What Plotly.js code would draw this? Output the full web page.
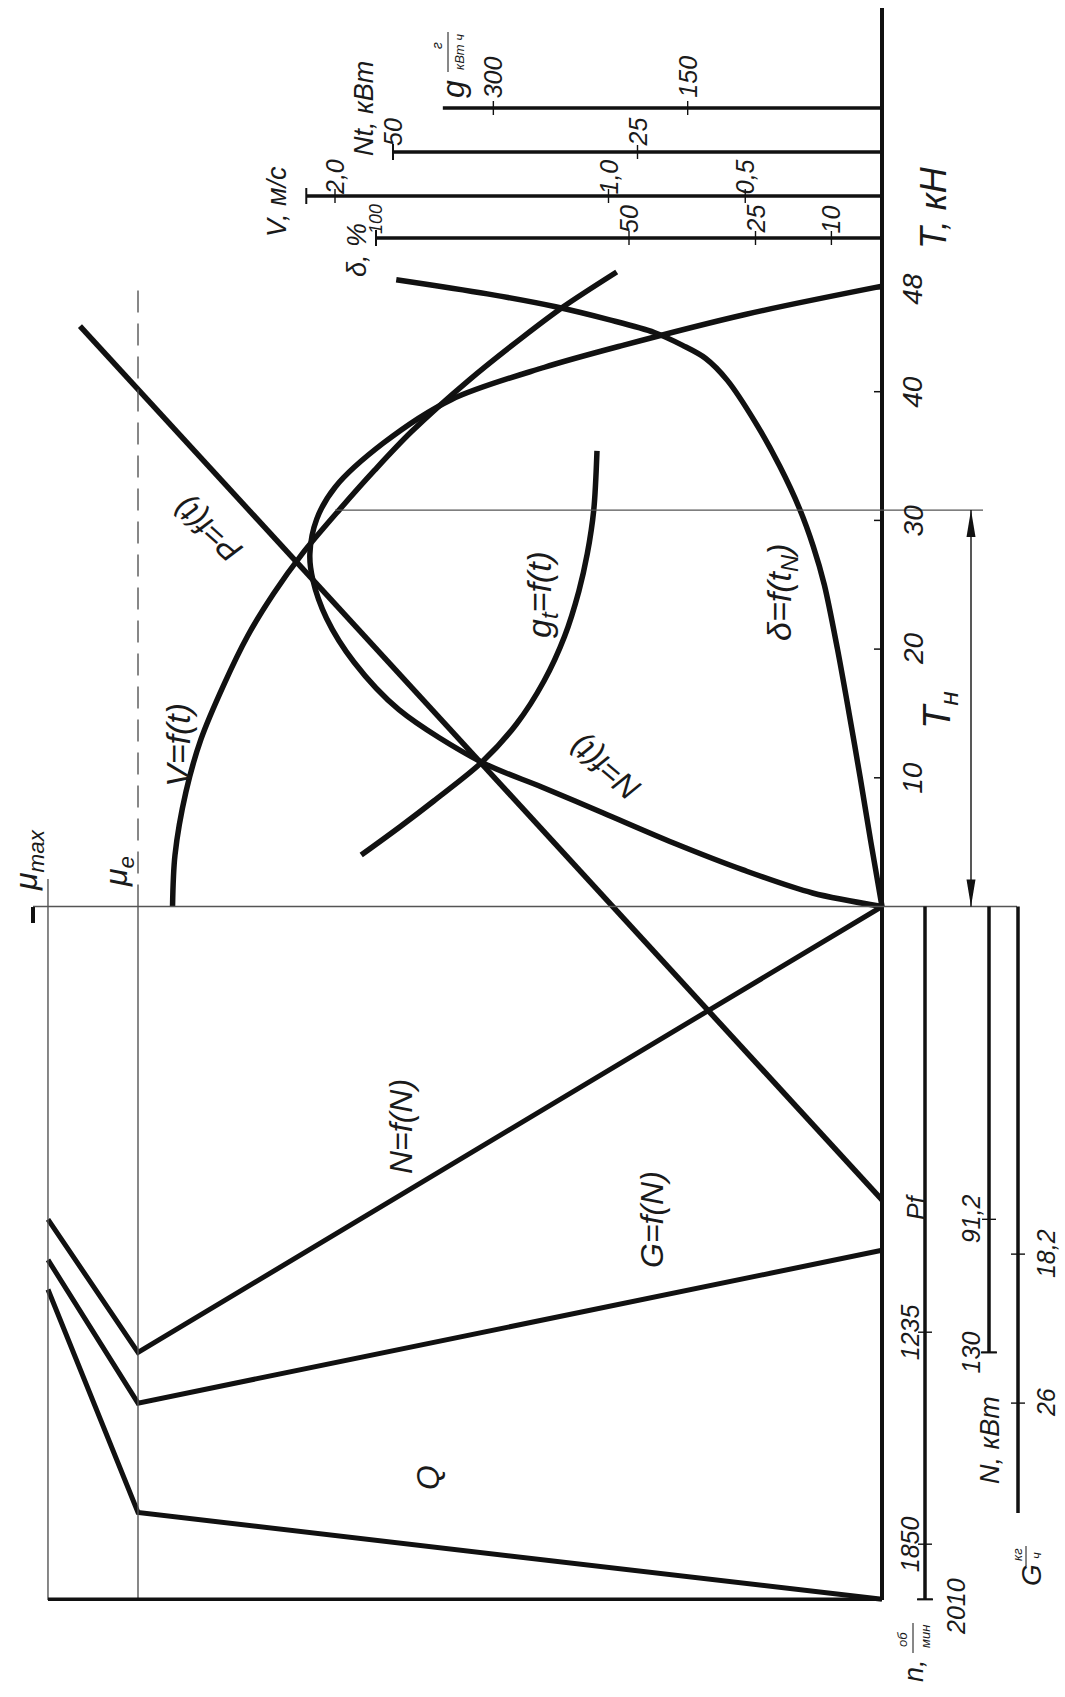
<!DOCTYPE html>
<html>
<head>
<meta charset="utf-8">
<script src="https://cdn.plot.ly/plotly-3.0.1.min.js"></script>
<style>html,body{margin:0;padding:0;background:#fff;overflow:hidden}</style>
</head>
<body>
<div id="chart" style="width:1065px;height:1697px"></div>
<script>
// ---------------- DATA ----------------
// Upper field: traction characteristic vs hook pull T, kN
const T_V   = [0, 4, 8.9, 13, 17.3, 21, 24.3, 27.4, 30.8, 33.9, 36.9, 40.9, 44.3, 46.6, 49.3];
const V_MS  = [2.594, 2.585, 2.545, 2.49, 2.405, 2.32, 2.225, 2.12, 1.985, 1.855, 1.72, 1.51, 1.31, 1.165, 0.97];

const T_NT  = [0, 1.05, 2.84, 4.93, 7.26, 9.29, 11.2, 15.3, 19.0, 22.4, 25.4, 27.4, 30.1, 32.6, 36.0, 39.4, 41.9, 43.6, 46.0, 48.2];
const NT_KW = [0, 7.1, 14.2, 21.3, 28.5, 34.8, 40.9, 49.4, 54.0, 56.8, 58.2, 58.5, 57.8, 55.9, 51.0, 44.0, 34.5, 26.5, 14.0, 0];

const T_GT  = [4.0, 6.2, 8.2, 11.2, 14.2, 17.5, 21.0, 24.5, 27.4, 30.8, 35.4];
const GT    = [402, 372, 346, 309, 282, 261, 245, 234, 227.5, 222.5, 220];

const T_DELTA = [0, 5, 10, 15, 20, 25, 28, 31, 34.2, 37.6, 40.9, 42.6, 43.6, 44.6, 45.6, 46.6, 47.6, 48.7];
const DELTA   = [0, 2.2, 4.3, 6.5, 8.8, 11.4, 13.6, 16.4, 20.2, 25.0, 30.6, 34.9, 39.4, 45, 54, 64.5, 78, 96];

// Straight line P = f(t) (engine torque -> pull, starts at -Pf)
const P_MU = [0, 1.078];
const P_T  = [-22.8, 45.1];

// Lower field: regulator characteristic of the engine vs torque mu (mu_e = 1)
const MU      = [0, 1, 1.121];          // 0, mu_e, mu_max
const MU_E = 1, MU_MAX = 1.121;
const N_KW    = [0, 130, 91.2];         // N = f(N)
const G_KGH   = [18.0, 26, 18.5];       // G = f(N)
const N_RPM   = [2010, 1758, 1111];     // Q (n)
const T_NOM   = 30.8;                   // T_н
const T_END   = 48.1;                   // top of mu_e dashed line

// Tick values / labels
const T_TICKS = [10, 20, 30, 40, 48];
const DELTA_TICKS = [100, 50, 25, 10];
const V_TICKS = [2.0, 1.0, 0.5];
const V_LABELS = ['2,0', '1,0', '0,5'];
const NT_TICKS = [50, 25];
const GT_TICKS = [300, 150];
const NKW_TICKS = [91.2, 130];
const NKW_LABELS = ['91,2', '130'];
const GKG_TICKS = [18.2, 26];
const GKG_LABELS = ['18,2', '26'];
const RPM_TICKS = [1235, 1850, 2010];
const SCALE_END = {V: 2.105, Nt: 50, delta: 100, g: 339, G: 31.75, N: 130, n: 2010};

// ---------------- LAYOUT GEOMETRY ----------------
const W = 1065, H = 1697;
const X0 = 882, Y0 = 906.5;            // pixel of the zero of every scale
const K = {mu: 744, V: 273.5, Nt: 9.78, d: 5.06, g: 1.2955, T: 12.87, N: 3.43, G: 19.1, n: 0.3447};
const px = x => x / W;
const py = y => 1 - y / H;
const xr = k => [X0 / k, -(W - X0) / k];
const yUp = k => [-(H - Y0) / k, Y0 / k];
const yDn = k => [(H - Y0) / k, -Y0 / k];
const ax = (r, extra) => Object.assign({range: r, visible: false, fixedrange: true, showgrid: false, zeroline: false}, extra || {});

const INK = '#111';
const THIN = '#555';
const FAM = 'Liberation Sans Narrow, Arial Narrow, sans-serif';
const F = (s) => ({family: FAM, size: s, color: '#1a1a1a', style: 'italic'});

function curve(x, y, xa, ya, w) {
  return {x: x, y: y, xaxis: xa, yaxis: ya, type: 'scatter', mode: 'lines',
          line: {color: INK, width: w || 5.5, shape: 'spline', smoothing: 0.9},
          hoverinfo: 'skip', showlegend: false};
}
function poly(x, y, xa, ya, w) {
  return {x: x, y: y, xaxis: xa, yaxis: ya, type: 'scatter', mode: 'lines',
          line: {color: INK, width: w || 5}, hoverinfo: 'skip', showlegend: false};
}

const traces = [
  curve(V_MS, T_V, 'x2', 'y'),
  curve(NT_KW, T_NT, 'x3', 'y'),
  curve(DELTA, T_DELTA, 'x4', 'y'),
  curve(GT, T_GT, 'x5', 'y'),
  poly(P_MU, P_T, 'x', 'y', 5.5),
  poly(MU, N_KW, 'x', 'y2'),
  poly(MU, G_KGH, 'x', 'y3'),
  poly(MU, N_RPM, 'x', 'y4')
];

const shapes = [];
function ln(o, w, color, dash) {
  shapes.push(Object.assign({type: 'line', line: {color: color || INK, width: w, dash: dash || 'solid'}}, o));
}
// T axis (thick vertical)
ln({xref: 'x', x0: 0, x1: 0, yref: 'paper', y0: py(8), y1: py(1600)}, 4);
T_TICKS.forEach(t => ln({xref: 'x', xsizemode: 'pixel', xanchor: 0, x0: -8, x1: 0, yref: 'y', y0: t, y1: t}, 1.5));
// T = 0 base line and T_н line
ln({xref: 'paper', x0: px(33), x1: px(1017), yref: 'y', y0: 0, y1: 0}, 1.4, THIN);
ln({xref: 'paper', x0: px(335), x1: px(983), yref: 'y', y0: T_NOM, y1: T_NOM}, 1.4, THIN);
// T_н dimension arrow
ln({xref: 'paper', x0: px(971), x1: px(971), yref: 'y', y0: 0, y1: T_NOM}, 1.4, INK);
shapes.push({type: 'path', xref: 'paper', xsizemode: 'pixel', xanchor: px(971), yref: 'y', ysizemode: 'pixel', yanchor: T_NOM,
  path: 'M0,0 L-4.5,-27 L4.5,-27 Z', fillcolor: INK, line: {width: 0}});
shapes.push({type: 'path', xref: 'paper', xsizemode: 'pixel', xanchor: px(971), yref: 'y', ysizemode: 'pixel', yanchor: 0,
  path: 'M0,0 L-4.5,27 L4.5,27 Z', fillcolor: INK, line: {width: 0}});
// mu lines
ln({xref: 'x', x0: MU_MAX, x1: MU_MAX, yref: 'paper', y0: py(879), y1: py(1600)}, 1.4, THIN);
ln({xref: 'x', x0: MU_E, x1: MU_E, yref: 'paper', y0: py(Y0), y1: py(1600)}, 1.4, THIN);
ln({xref: 'x', x0: MU_E, x1: MU_E, yref: 'y', y0: 0, y1: T_END}, 1.4, THIN, '22px,11px');
ln({xref: 'x', x0: 0, x1: MU_MAX, yref: 'y4', y0: SCALE_END.n, y1: SCALE_END.n}, 3.5);
ln({xref: 'paper', x0: px(33), x1: px(33), yref: 'paper', y0: py(907), y1: py(923)}, 4);

// upper scales
function hscale(xa, end, ypx, ticks, endTick) {
  ln({xref: xa, x0: 0, x1: end, yref: 'paper', y0: py(ypx), y1: py(ypx)}, 3.5);
  ticks.forEach(v => ln({xref: xa, x0: v, x1: v, yref: 'paper', ysizemode: 'pixel', yanchor: py(ypx), y0: -7, y1: 7}, 1.4));
  if (endTick) ln({xref: xa, x0: end, x1: end, yref: 'paper', ysizemode: 'pixel', yanchor: py(ypx), y0: -8, y1: 8}, 2);
}
hscale('x4', SCALE_END.delta, 238, DELTA_TICKS, true);
hscale('x2', SCALE_END.V, 196, V_TICKS, true);
hscale('x3', SCALE_END.Nt, 152, NT_TICKS, true);
hscale('x5', SCALE_END.g, 108, GT_TICKS, false);

// lower scales
function vscale(ya, end, xpx, ticks, endTick) {
  ln({xref: 'paper', x0: px(xpx), x1: px(xpx), yref: ya, y0: 0, y1: end}, 3.5);
  ticks.forEach(v => ln({xref: 'paper', xsizemode: 'pixel', xanchor: px(xpx), x0: -7, x1: 7, yref: ya, y0: v, y1: v}, 1.4));
  if (endTick) ln({xref: 'paper', xsizemode: 'pixel', xanchor: px(xpx), x0: -8, x1: 8, yref: ya, y0: end, y1: end}, 2);
}
vscale('y4', SCALE_END.n, 925, RPM_TICKS, true);
vscale('y2', SCALE_END.N, 989, NKW_TICKS, true);
vscale('y3', SCALE_END.G, 1018, GKG_TICKS, false);

// fraction bars
ln({xref: 'paper', x0: px(448), x1: px(448), yref: 'paper', y0: py(32), y1: py(72)}, 1);
ln({xref: 'paper', x0: px(913), x1: px(913), yref: 'paper', y0: py(1623), y1: py(1653)}, 1);
ln({xref: 'paper', x0: px(1026), x1: px(1026), yref: 'paper', y0: py(1546), y1: py(1566)}, 1);

// ---------------- TEXT ----------------
const anns = [];
function lab(text, x, y, size, angle, refs) {
  anns.push(Object.assign({text: text, x: x, y: y, xref: 'paper', yref: 'paper', showarrow: false,
    textangle: angle === undefined ? -90 : angle, font: F(size), xanchor: 'center', yanchor: 'middle'}, refs || {}));
}
const P = (t, xpx, ypx, s, a) => lab(t, px(xpx), py(ypx), s, a);

T_TICKS.forEach(t => lab(String(t), px(913), t, 28, -90, {yref: 'y'}));
P('T, кН', 934, 208, 36);
P('T<sub>н</sub>', 940, 710, 38);

DELTA_TICKS.forEach(v => lab(String(v), v, py(219), v === 100 ? 18 : 25, -90, {xref: 'x4'}));
V_TICKS.forEach((v, i) => lab(V_LABELS[i], v, py(177), 25, -90, {xref: 'x2'}));
NT_TICKS.forEach(v => lab(String(v), v, py(132), 25, -90, {xref: 'x3'}));
GT_TICKS.forEach(v => lab(String(v), v, py(77), 25, -90, {xref: 'x5'}));
P('δ, %', 357, 250, 27);
P('V, м/с', 277, 202, 27);
P('Nt, кВт', 364, 109, 27);
P('g', 453, 89, 32);
P('г', 437, 46, 14);
P('кВт ч', 460, 52, 13);

P('V=f(t)', 178, 745, 34);
P('P=f(t)', 208, 530, 32, -138);
P('g<sub>t</sub>=f(t)', 541, 595, 34);
P('δ=f(t<sub>N</sub>)', 781, 593, 34);
P('N=f(t)', 605, 768, 32, -140);
P('N=f(N)', 401, 1127, 32);
P('G=f(N)', 652, 1220, 32);
P('Q', 428, 1478, 32);
P('μ<sub>max</sub>', 28, 860, 32);
P('μ<sub>e</sub>', 118, 872, 32);

P('Pf', 916, 1207, 25);
RPM_TICKS.slice(0, 2).forEach(v => lab(String(v), px(910), v, 25, -90, {yref: 'y4'}));
P('2010', 956, 1607, 25);
NKW_TICKS.forEach((v, i) => lab(NKW_LABELS[i], px(971), v, 25, -90, {yref: 'y2'}));
GKG_TICKS.forEach((v, i) => lab(GKG_LABELS[i], px(1046), v, 25, -90, {yref: 'y3'}));
P('N, кВт', 990, 1440, 27);
P('G', 1031, 1575, 28);
P('кг', 1017, 1555, 13);
P('ч', 1036, 1556, 13);
P('n,', 914, 1671, 27);
P('об', 902, 1639, 13);
P('мин', 925, 1637, 13);

const layout = {
  width: W, height: H, autosize: false,
  margin: {l: 0, r: 0, t: 0, b: 0, pad: 0},
  paper_bgcolor: '#fff', plot_bgcolor: '#fff',
  showlegend: false,
  xaxis: ax(xr(K.mu), {domain: [0, 1]}),
  xaxis2: ax(xr(K.V), {overlaying: 'x'}),
  xaxis3: ax(xr(K.Nt), {overlaying: 'x'}),
  xaxis4: ax(xr(K.d), {overlaying: 'x'}),
  xaxis5: ax(xr(K.g), {overlaying: 'x'}),
  yaxis: ax(yUp(K.T), {domain: [0, 1]}),
  yaxis2: ax(yDn(K.N), {overlaying: 'y'}),
  yaxis3: ax(yDn(K.G), {overlaying: 'y'}),
  yaxis4: ax(yDn(K.n), {overlaying: 'y'}),
  shapes: shapes,
  annotations: anns
};

Plotly.newPlot('chart', traces, layout, {staticPlot: true, displayModeBar: false});
</script>
</body>
</html>
